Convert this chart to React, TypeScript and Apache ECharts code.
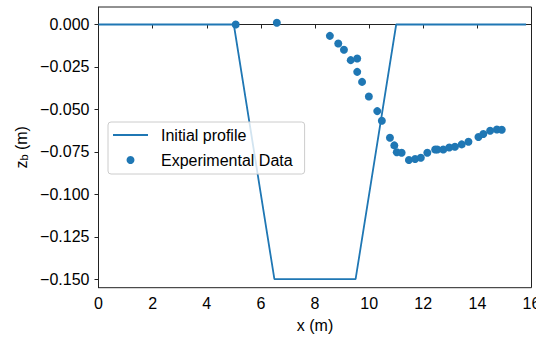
import React, { useEffect, useRef } from "react";
import * as echarts from "echarts";

const profileX = [0, 5, 6.5, 9.5, 11, 15.8];
const profileZ = [0, 0, -0.15, -0.15, 0, 0];

const expX = [5.07, 6.59, 8.55, 8.86, 9.07, 9.32, 9.56, 9.56, 9.74, 9.99, 10.3, 10.47, 10.77, 10.93, 11.02, 11.2, 11.47, 11.7, 11.91, 12.15, 12.44, 12.52, 12.74, 12.96, 13.17, 13.42, 13.67, 14.04, 14.22, 14.47, 14.72, 14.9];
const expZ = [0.0, 0.001, -0.0067, -0.0112, -0.0149, -0.021, -0.02, -0.0279, -0.0338, -0.0424, -0.051, -0.0567, -0.0667, -0.0712, -0.0752, -0.0755, -0.0798, -0.0792, -0.0785, -0.0755, -0.0736, -0.0736, -0.0736, -0.0724, -0.072, -0.0706, -0.0691, -0.0663, -0.0645, -0.0626, -0.0618, -0.062];

const yTicks = [0, -0.025, -0.05, -0.075, -0.1, -0.125, -0.15];

const FONT = "Liberation Sans";
const C0 = "#1f77b4";

export default function App() {
  const ref = useRef<HTMLDivElement>(null);
  useEffect(() => {
    document.body.style.margin = "0";
    const chart = echarts.init(ref.current!, null, { renderer: "svg" });
    const fmtY = (v: number) => (Math.abs(v) < 1e-9 ? "0.000" : (v < 0 ? "\u2212" : "") + Math.abs(v).toFixed(3));
    chart.setOption({
      animation: false,
      backgroundColor: "#fff",
      textStyle: { fontFamily: FONT },
      grid: {
        left: 98.5,
        right: 4.5,
        top: 7,
        bottom: 50.3,
        show: true,
        borderColor: "#222",
        borderWidth: 1,
        backgroundColor: "transparent",
        outerBoundsMode: "none",
      },
      legend: {
        left: 108,
        top: 122,
        orient: "vertical",
        itemWidth: 35,
        itemHeight: 8,
        itemGap: 7,
        padding: [4, 12, 5, 5],
        backgroundColor: "rgba(255,255,255,0.8)",
        borderColor: "#cccccc",
        borderWidth: 1,
        borderRadius: 3,
        textStyle: { fontFamily: FONT, fontSize: 16, color: "#000", lineHeight: 18, padding: [0, 0, 0, 8] },
        data: [
          { name: "Initial profile", icon: "path://M0 0 H35 V2 H0 Z" },
          { name: "Experimental Data", icon: "circle" },
        ],
      },
      xAxis: {
        type: "value",
        min: 0,
        max: 16,
        interval: 2,
        name: "x (m)",
        nameLocation: "middle",
        nameGap: 30,
        nameTextStyle: { fontFamily: FONT, fontSize: 16, color: "#000" },
        axisLine: { show: true, lineStyle: { color: "#222", width: 1 } },
        axisTick: { show: true, length: 4, lineStyle: { color: "#222" } },
        axisLabel: { margin: 8, fontFamily: FONT, fontSize: 16, color: "#000" },
        splitLine: { show: false },
      },
      yAxis: {
        type: "value",
        min: -0.155,
        max: 0.0103,
        name: "{z|z}{sub|b}{n| (m)}",
        nameLocation: "middle",
        nameGap: 69,
        nameTextStyle: {
          fontFamily: FONT,
          color: "#000",
          rich: {
            z: { fontFamily: FONT, fontSize: 16, color: "#000", lineHeight: 18, verticalAlign: "bottom" },
            sub: { fontFamily: FONT, fontSize: 11, color: "#000", lineHeight: 18, verticalAlign: "bottom", padding: [5, 0, 0, 0] },
            n: { fontFamily: FONT, fontSize: 16, color: "#000", lineHeight: 18, verticalAlign: "bottom" },
          },
        },
        axisLine: { show: true, onZero: false, lineStyle: { color: "#222", width: 1 } },
        axisTick: { show: true, length: 4, lineStyle: { color: "#222" }, customValues: yTicks },
        axisLabel: { margin: 9, fontFamily: FONT, fontSize: 16, color: "#000", customValues: yTicks, formatter: fmtY },
        splitLine: { show: false },
      },
      series: [
        {
          name: "Initial profile",
          type: "line",
          data: profileX.map((x, i) => [x, profileZ[i]]),
          symbol: "none",
          lineStyle: { color: C0, width: 1.8 },
          itemStyle: { color: C0 },
          z: 2,
        },
        {
          name: "Experimental Data",
          type: "scatter",
          data: expX.map((x, i) => [x, expZ[i]]),
          symbolSize: 8,
          itemStyle: { color: C0, opacity: 1 },
          z: 3,
        },
      ],
    });
    return () => chart.dispose();
  }, []);
  return <div ref={ref} style={{ width: 536, height: 338 }} />;
}
